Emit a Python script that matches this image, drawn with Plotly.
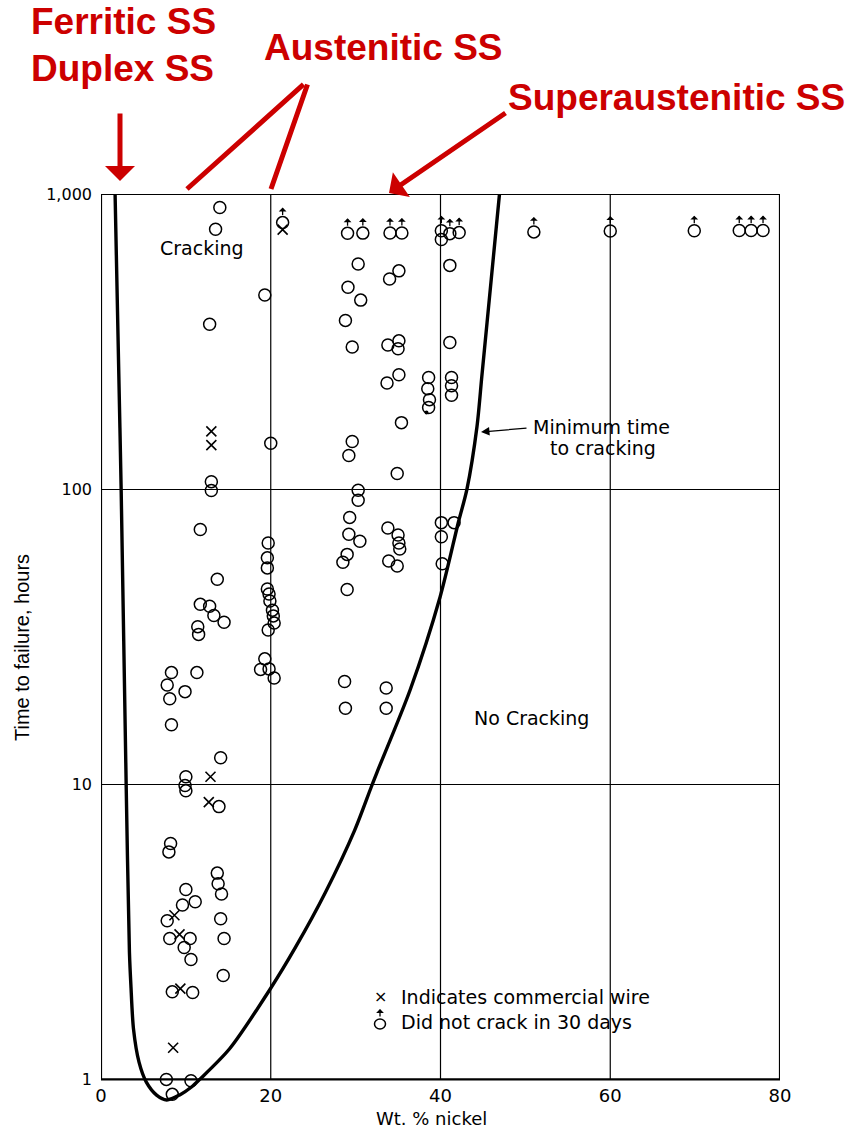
import numpy as np
import plotly.graph_objects as go

# Specimens that cracked: nickel content (wt. %) and time to failure (hours)
crack_ni = [
    7.7, 10.6, 8.4,
    8.4, 10.8, 10.6, 14.4,
    7.8, 9.6, 10.0, 11.1, 8.1, 10.5, 9.8,
    14.1, 14.5, 13.7, 13.8, 14.2,
    13.9, 8.2, 8.0, 10.0, 9.9, 10.0,
    14.1, 8.3, 8.1, 9.9, 7.8, 8.3, 11.3,
    11.7, 12.8, 13.3, 14.5, 11.4, 11.5,
    13.7, 11.7, 13.0, 13.0,
    14.0, 13.5, 12.8, 19.3, 20.0,
    19.7, 19.6, 19.6, 19.6, 19.8, 19.9, 20.2, 20.3, 20.4, 19.7, 19.3, 18.8, 19.8, 20.4,
    28.7, 33.6, 28.8, 33.6, 29.0, 28.5, 29.0, 30.5, 29.2, 29.3, 30.3, 30.3, 33.8, 35.0, 35.1, 35.2, 33.9, 34.9,
    40.1, 41.6, 40.1, 40.2,
    29.6, 29.2, 34.9, 35.4,
    38.6, 38.5, 38.7, 38.6,
    41.3, 41.3, 41.3, 41.1, 41.1,
    30.3, 29.1, 30.6, 28.8, 29.6, 35.1, 34.0, 33.8, 35.1, 35.0, 35.1, 33.7,
    40.1,
]
crack_hours = [
    1.0, 0.99, 0.89,
    1.98, 1.97, 2.55, 2.25,
    3.45, 3.9, 4.4, 4.0, 3.0, 3.0, 2.8,
    3.5, 3.0, 5.0, 4.6, 4.25,
    8.4, 6.3, 5.9, 10.6, 9.9, 9.5,
    12.3, 15.9, 19.5, 20.6, 21.7, 23.9, 23.9,
    40.7, 40.1, 37.3, 35.4, 34.2, 32.2,
    49.5, 73, 106, 99,
    900, 760, 362, 455, 143,
    65.7, 58.5, 54.1, 45.9, 44.1, 41.8, 38.9, 37.2, 35.2, 33.3, 26.6, 24.5, 24.6, 22.9,
    22.3, 21.2, 18.1, 18.1, 45.7, 56.5, 60.1, 66.6, 70.3, 80.2, 91.7, 99.1, 73.8, 69.9, 65.7, 62.7, 57.1, 54.9,
    77, 77, 69, 55.9,
    145, 130, 113, 168,
    239, 219, 201, 189,
    239, 224, 208, 573, 314,
    579, 483, 437, 373, 303, 549, 515, 308, 318, 299, 244, 229,
    701,
]

# Commercial wire specimens
wire_ni = [8.5, 9.35, 8.65, 9.25, 12.9, 12.7, 13.0, 13.0, 21.4]
wire_hours = [1.28, 2.03, 3.6, 3.1, 10.6, 8.7, 157, 141, 757]

# Specimens that did not crack in 30 days
nocrack_ni = [21.4, 29.05, 30.85, 34.05, 35.45, 40.1, 41.1, 42.2, 51.0, 60.0, 69.9, 75.2, 76.6, 78.0]
nocrack_hours = [800, 736, 737, 738, 738, 751, 734, 740, 744, 749, 751, 752, 752, 752]

# Stray printed dot
dot_ni = [38.35]
dot_hours = [182]

# Minimum time to cracking
curve_ni = [1.66, 2.02, 2.38, 2.97, 3.35, 3.52, 3.83, 4.48, 5.34, 6.55, 7.75, 9.28, 10.7,
            11.63, 15.15, 19.92, 22.94, 26.42, 29.88, 31.83, 32.52, 36.43, 39.96, 42.1,
            43.11, 44.3, 44.87, 45.49, 45.98, 46.63, 46.95]
curve_hours = [1000, 315, 97.8, 9.78, 2.70, 2.09, 1.48, 1.144, 0.979, 0.885, 0.852, 0.886, 0.944,
               1.0, 1.27, 2.02, 2.81, 4.29, 6.98, 9.77, 10.98, 20.9, 43.2, 77.1,
               99.8, 163, 241, 368, 515, 803, 1000]

x_ticks = [0, 20, 40, 60, 80]
x_grid = [20, 40, 60]
y_ticks = [1, 10, 100, 1000]
y_ticktext = ["1", "10", "100", "1,000"]

# ---- page geometry -------------------------------------------------------
W, H = 850, 1129
L, R, T, B = 101, 70, 194, 21
PW, PH = W - L - R, H - T - B
Y_LO, Y_HI = np.log10(0.8), 3.0
X_LO, X_HI = 0, 80


def paper(px, py):
    """Page pixel -> paper coordinates."""
    return (px - L) / PW, (H - B - py) / PH


RED = "#cc0000"
TXT = "DejaVu Sans, Liberation Sans, sans-serif"
ARIAL = "Liberation Sans, Arial, sans-serif"

fig = go.Figure()

fig.add_trace(go.Scatter(
    x=curve_ni, y=curve_hours, mode="lines",
    line=dict(color="black", width=3.4, shape="spline", smoothing=0.8),
    hoverinfo="skip", showlegend=False))

circle_marker = dict(symbol="circle-open", size=12, color="black", line=dict(width=1.5, color="black"))
fig.add_trace(go.Scatter(x=crack_ni, y=crack_hours, mode="markers", marker=circle_marker,
                         cliponaxis=False, showlegend=False))
fig.add_trace(go.Scatter(x=nocrack_ni, y=nocrack_hours, mode="markers", marker=circle_marker,
                         cliponaxis=False, showlegend=False))
fig.add_trace(go.Scatter(x=wire_ni, y=wire_hours, mode="markers",
                         marker=dict(symbol="x-thin-open", size=10, color="black",
                                     line=dict(width=1.6, color="black")),
                         cliponaxis=False, showlegend=False))
fig.add_trace(go.Scatter(x=dot_ni, y=dot_hours, mode="markers",
                         marker=dict(symbol="circle", size=4, color="black"),
                         cliponaxis=False, showlegend=False))

shapes = []
# frame
shapes.append(dict(type="rect", xref="x", yref="y", x0=X_LO, x1=X_HI, y0=1, y1=1000,
                   line=dict(color="black", width=2.2), layer="below"))
# vertical grid lines inside the frame
for gx in x_grid:
    shapes.append(dict(type="line", xref="x", yref="y", x0=gx, x1=gx, y0=1, y1=1000,
                       line=dict(color="black", width=1.2), layer="below"))

annotations = []
# up-arrows above the specimens that did not crack
for xi, yi in zip(nocrack_ni, nocrack_hours):
    annotations.append(dict(x=xi, y=np.log10(yi), xref="x", yref="y", text="",
                            showarrow=True, ax=0, ay=9, yshift=15,
                            arrowhead=1, arrowsize=1.0, arrowwidth=1.3, arrowcolor="black"))


def label(text, px, py, size=19, xanchor="center", family=TXT, color="black", angle=0):
    x, y = paper(px, py)
    annotations.append(dict(x=x, y=y, xref="paper", yref="paper", text=text, showarrow=False,
                            xanchor=xanchor, yanchor="middle", textangle=angle,
                            font=dict(family=family, size=size, color=color)))


def pointer(tip, tail, head=1, width=5, size=1.0, color=RED):
    x, y = paper(*tip)
    annotations.append(dict(x=x, y=y, xref="paper", yref="paper", text="",
                            showarrow=True, ax=tail[0] - tip[0], ay=tail[1] - tip[1],
                            arrowhead=head, arrowsize=size, arrowwidth=width, arrowcolor=color))


label("Cracking", 202, 248)
label("No Cracking", 531, 718)
label("Minimum time", 601, 427)
label("to cracking", 603, 448)
pointer((481, 432), (528, 428), head=2, width=1.3, size=1.3, color="black")

# key
label("\u00d7", 380, 996, size=16)
label("Indicates commercial wire", 399, 997, xanchor="left")
label("Did not crack in 30 days", 399, 1022, xanchor="left")
kx, ky = paper(380, 1024)
shapes.append(dict(type="circle", xref="paper", yref="paper", xsizemode="pixel", ysizemode="pixel",
                   xanchor=kx, yanchor=ky, x0=-5.5, x1=5.5, y0=-5, y1=5,
                   line=dict(color="black", width=1.5)))
pointer((380, 1009), (380, 1018), head=1, width=1.3, size=1.0, color="black")

# axis titles
label("Wt. % nickel", 431, 1118, size=18)
label("Time to failure, hours", 22, 648, size=20, family=ARIAL, angle=-90)

# stainless-steel family call-outs
label("<b>Ferritic SS</b>", 29, 22, size=37, xanchor="left", family=ARIAL, color=RED)
label("<b>Duplex SS</b>", 29, 68, size=37, xanchor="left", family=ARIAL, color=RED)
label("<b>Austenitic SS</b>", 383, 47, size=37, family=ARIAL, color=RED)
label("<b>Superaustenitic SS</b>", 676, 97, size=37, family=ARIAL, color=RED)
pointer((120, 181), (120, 112), head=1, width=5, size=1.0)
pointer((187, 189), (305, 83), head=0, width=5)
pointer((271, 189), (308, 83), head=0, width=5)
pointer((389, 193), (507, 112), head=1, width=5, size=1.0)

fig.update_layout(
    width=W, height=H,
    margin=dict(l=L, r=R, t=T, b=B, pad=0),
    paper_bgcolor="white", plot_bgcolor="white",
    font=dict(family=TXT, color="black"),
    showlegend=False,
    shapes=shapes,
    annotations=annotations,
    xaxis=dict(range=[X_LO, X_HI], tickvals=x_ticks, showgrid=False, zeroline=False,
               showline=False, ticks="", anchor="free",
               position=(0 - Y_LO) / (Y_HI - Y_LO),
               tickfont=dict(size=18), ticklabelstandoff=4),
    yaxis=dict(type="log", range=[Y_LO, Y_HI], domain=[0, 1], tickvals=y_ticks,
               ticktext=y_ticktext, showgrid=True, gridcolor="black", gridwidth=1.2,
               zeroline=False, showline=False, ticks="", tickfont=dict(size=16),
               ticklabelstandoff=8),
)

fig.write_html("out.html")
